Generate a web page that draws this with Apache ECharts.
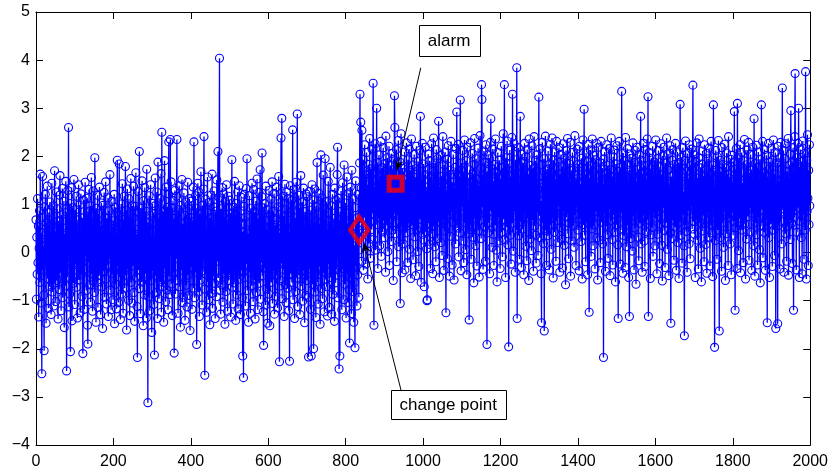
<!DOCTYPE html>
<html><head><meta charset="utf-8">
<script src="https://cdn.jsdelivr.net/npm/echarts@6/dist/echarts.min.js"></script>
<style>html,body{margin:0;padding:0;background:#fff}#c{width:831px;height:470px}</style>
</head><body><div id="c"></div>
<script>
const xTicks = [0,200,400,600,800,1000,1200,1400,1600,1800,2000];
const yTicks = [-4,-3,-2,-1,0,1,2,3,4,5];
// observed signal, one value per sample (sample index = position in array)
const values = [
0.68,-0.97,0.32,-0.45,1.12,-0.21,0.55,-1.34,0.09,0.87,-0.62,1.63,-0.18,0.41,-1.05,-2.52,0.73,1.58,-0.36,0.14,-0.88,-2.04,0.95,-0.27,1.21,0.36,-1.47,0.62,-0.09,1.38,-0.54,0.21,-1.16,0.83,0.47,-0.71,1.05,-0.33,0.18,-1.29,0.59,1.44,-0.82,0.06,-0.4,0.97,-1.11,0.28,1.7,-0.63,
0.44,-1.02,0.17,1.26,-0.58,0.91,-0.15,-1.38,0.66,0.03,-0.77,1.19,1.6,-0.42,0.25,-1.21,0.78,-0.06,1.33,-0.94,0.51,-0.3,1.07,-1.56,0.39,0.12,-0.69,1.48,-0.23,-2.46,0.84,-0.51,1.29,0.07,2.6,-1.13,0.35,-0.86,1.02,-2.06,0.58,-0.19,1.35,-1.42,0.22,0.93,-0.64,0.11,1.52,-0.37,
-1.08,0.46,0.89,-0.25,1.17,-0.72,0.31,-1.36,0.68,0.04,1.41,-0.57,-0.12,0.99,-1.25,0.53,1.22,-0.46,0.16,-0.91,0.72,-2.1,0.38,1.09,-0.34,-1.18,0.61,1.46,-0.08,0.27,-0.79,1.13,0.42,-1.51,-1.9,0.86,-0.2,1.31,0.09,-0.67,0.97,-1.03,0.34,1.56,-0.44,0.18,-1.22,0.75,1.28,-0.59,
0.13,-0.83,1.97,-0.31,0.64,-1.45,0.92,0.05,-0.62,1.19,-1.14,0.37,0.81,-0.48,1.36,-0.17,0.56,-1.29,0.24,1.03,-0.71,0.45,-1.58,0.98,0.2,-0.39,1.25,-0.93,0.62,0.08,1.47,-0.55,-1.07,0.71,0.33,-0.26,1.14,-1.33,0.48,0.87,-0.14,1.62,-0.78,0.29,-1.19,0.57,1.06,-0.43,0.15,-0.98,
0.66,-0.37,1.21,-1.48,0.39,0.94,-0.66,0.12,-1.17,0.83,1.92,-0.29,0.47,-1.04,0.76,1.84,-0.51,0.19,-1.39,0.58,1.01,-0.86,0.27,1.43,-0.21,-1.26,0.69,0.02,1.17,-0.74,0.36,1.79,-0.47,0.88,-1.61,0.14,1.32,-0.35,0.61,-0.99,1.12,0.26,-1.31,0.79,-0.09,1.54,-0.62,0.43,-1.05,0.97,
-0.28,0.73,1.38,-0.83,0.21,-1.43,0.96,0.07,1.66,-0.52,0.38,-1.12,-2.18,0.84,1.27,-0.36,0.49,2.1,-0.75,0.15,-1.27,0.92,0.31,-0.61,1.49,-0.19,0.67,-1.52,1.08,0.24,-0.88,1.35,0.11,-0.44,0.86,-1.36,1.73,-0.27,0.52,-3.12,0.63,-0.92,1.18,0.04,-1.21,0.77,1.41,-0.58,0.29,-1.66,
0.46,1.02,-0.39,0.81,-1.08,0.23,-2.13,0.97,1.55,-0.48,0.18,-0.83,1.26,0.59,-1.37,1.88,-0.14,0.72,-0.96,0.35,1.13,-0.61,0.09,1.64,-1.24,2.5,0.44,-0.71,0.86,-0.22,-1.45,0.67,1.91,-0.33,0.28,-1.02,1.36,0.13,-0.78,0.94,0.52,-1.19,1.22,2.3,-0.49,0.38,-0.87,2.35,0.06,1.47,
-0.65,0.93,-1.31,0.17,1.08,-0.42,0.71,-2.09,0.34,1.29,-0.86,0.55,-0.13,1.17,2.35,-0.58,0.24,-1.26,0.89,0.02,1.39,-0.71,0.46,-1.55,0.98,0.31,-0.37,1.52,-1.04,0.6,0.16,-0.93,1.24,-0.25,0.77,-1.41,0.42,1.05,-0.68,0.19,-1.13,0.85,1.46,-0.47,0.28,-0.89,1.12,0.51,-1.62,0.73,
-0.3,1.07,0.38,-1.18,0.64,-0.05,1.36,-0.74,2.3,0.21,-0.94,0.57,1.18,-0.41,0.92,-1.91,0.33,-0.16,1.44,-0.82,0.69,1.26,-1.33,0.15,0.81,-0.57,1.68,-0.23,0.47,-1.09,0.98,-0.38,0.26,1.32,2.41,-0.76,-2.55,0.62,1.11,-0.45,0.09,-1.24,0.83,1.57,-0.61,0.35,-0.98,1.04,0.17,-1.5,
0.72,-0.27,1.19,-0.85,0.44,1.63,-1.16,0.31,-0.49,0.95,1.28,-0.64,0.13,-1.37,0.86,0.4,-0.92,1.51,-0.18,0.6,2.1,-0.53,0.25,1.14,4.04,-0.79,0.47,-1.28,0.91,0.08,-0.67,1.35,0.52,-1.03,0.19,1.22,-0.44,0.73,-1.49,1.06,0.28,-0.81,1.41,-0.15,0.66,-1.22,0.37,1.17,-0.58,0.03,
1.09,-0.46,0.82,-1.34,0.21,0.55,1.93,-0.72,0.36,-1.07,0.94,0.14,-0.63,1.48,-0.29,0.77,-1.41,1.02,0.48,-0.88,0.31,1.26,-1.17,0.65,-0.08,1.39,-0.55,0.22,-1.29,0.87,1.15,-0.37,0.59,-0.94,-2.15,0.43,-2.6,0.96,1.21,-0.52,0.18,-1.11,0.74,1.33,-0.24,1.95,-0.79,0.4,0.07,-1.45,
0.63,1.18,-0.41,0.27,-1.26,0.92,0.05,-0.69,1.44,-0.18,0.49,-1.02,1.31,0.16,-0.57,0.84,-1.38,0.35,1.07,-0.83,0.22,1.53,-0.36,-1.19,0.71,0.11,1.25,-0.64,0.45,1.72,-0.97,0.38,-0.21,1.16,2.07,-0.48,0.93,-1.23,-1.93,0.54,1.02,-0.32,0.67,-1.09,1.38,0.26,-0.75,0.47,-1.47,0.89,
0.12,-0.86,1.29,0.43,-1.52,0.78,-0.15,1.11,-0.62,0.34,1.47,-1.06,0.2,0.86,-0.39,1.23,-1.28,0.57,0.03,-0.91,0.68,1.36,-0.47,0.29,-1.15,0.95,0.16,1.58,-0.7,-2.27,0.41,-0.58,1.04,2.38,-0.23,2.79,-0.96,0.52,1.17,-0.35,0.76,-1.33,0.18,1.42,-0.67,0.31,-1.04,0.89,1.26,-0.13,
-0.74,0.46,1.13,-1.21,0.27,-2.26,0.83,1.39,-0.44,0.09,1.08,-0.62,0.35,2.55,-0.98,0.57,-0.2,1.31,-1.37,0.72,0.14,-0.81,1.46,0.39,-0.53,2.88,-1.12,0.64,0.01,1.19,-0.45,0.93,-1.29,0.28,1.6,-0.7,0.47,-0.16,1.05,-1.01,0.62,1.34,-0.38,0.19,-1.46,0.85,0.32,-0.89,1.22,0.07,
-0.58,1.16,0.41,-0.93,-2.17,0.72,1.27,-0.34,0.56,-1.18,0.88,-2.15,0.23,1.41,-0.66,0.37,1.09,-2.0,0.15,-0.47,1.32,-0.82,0.51,-1.35,0.96,0.08,1.87,-0.61,0.44,-1.07,0.79,1.23,-0.29,0.6,-1.49,0.34,2.03,-0.75,0.18,1.14,-0.96,0.47,1.61,-0.42,0.27,-1.23,0.91,1.95,-0.56,0.12,
1.06,-0.71,0.38,-1.32,0.83,1.48,-0.24,0.65,-1.14,0.29,1.77,-0.52,0.14,0.97,-1.28,0.43,1.21,-0.87,0.56,-0.09,0.71,-1.43,1.34,0.22,-0.63,1.09,-0.35,0.48,1.62,2.19,-0.94,0.31,1.13,-2.42,0.67,-2.15,0.85,-0.41,1.28,0.04,-1.19,0.58,1.45,-0.33,0.17,-0.98,1.82,0.39,-0.66,1.03,
0.27,-1.36,0.82,1.57,-0.45,0.61,-1.04,0.18,1.24,-0.77,-1.88,0.43,1.36,-0.52,0.09,-1.27,1.71,0.35,-0.81,1.12,0.56,-1.45,0.14,-0.62,-1.98,0.93,1.49,-0.28,0.38,-1.11,0.72,-0.46,1.21,0.05,-0.93,0.47,1.86,3.29,0.62,2.71,1.34,-0.18,2.54,1.07,0.41,1.93,-0.37,1.58,0.86,2.24,
0.73,1.62,-0.24,1.15,2.08,0.36,1.41,-0.55,0.97,1.83,0.19,1.28,2.37,0.64,-0.12,1.74,1.03,0.48,2.15,0.81,1.49,3.52,0.27,-1.51,1.36,0.92,2.26,0.05,1.68,1.12,3.0,0.58,1.87,-0.33,1.24,0.71,2.03,1.45,0.14,1.59,0.87,2.31,-0.08,1.18,1.76,0.43,1.02,2.18,0.66,1.39,
0.31,1.85,1.12,-0.41,2.42,0.78,1.29,0.56,1.97,0.02,1.53,0.94,2.21,-0.27,1.37,0.69,1.81,1.08,0.23,2.06,1.16,0.47,1.72,-0.58,1.94,0.83,3.26,2.6,0.39,1.43,0.95,2.14,-0.19,1.61,0.77,1.28,2.33,0.12,1.49,0.66,1.88,-1.06,1.21,2.47,0.54,1.03,-0.42,1.75,1.34,0.18,
1.67,0.89,2.09,-0.36,1.14,1.52,0.41,2.28,0.73,1.26,-0.21,1.93,0.62,1.38,2.15,0.07,1.71,0.94,-0.54,1.47,2.36,0.58,1.09,1.82,-0.15,1.25,0.84,2.04,0.33,1.56,0.92,-0.48,1.63,2.21,0.47,1.17,0.02,1.89,1.31,-0.29,1.44,2.12,0.69,2.83,1.06,-0.62,1.53,0.81,2.27,0.38,
1.19,1.84,0.26,-0.71,1.62,0.95,2.19,0.44,1.36,0.08,-1.0,-0.98,1.73,2.05,0.61,1.28,0.17,1.91,1.04,-0.33,1.57,0.83,2.26,0.39,1.12,-0.44,1.69,2.38,0.55,1.21,0.12,1.86,1.03,-0.19,2.14,0.76,1.42,0.29,1.95,0.64,2.73,1.08,-0.52,1.34,0.87,2.02,0.21,1.58,1.17,-0.06,
1.49,2.41,0.68,1.13,-0.37,1.82,0.45,2.09,0.96,-1.25,1.27,0.58,1.94,-0.13,1.36,2.22,0.79,1.05,-0.49,1.71,0.34,1.62,2.31,0.87,1.18,-0.26,1.46,0.63,2.04,1.09,-0.57,1.33,0.92,1.77,0.18,2.16,1.24,2.92,0.51,1.39,0.76,2.25,-0.09,1.58,1.02,0.41,3.17,1.14,-0.38,1.86,
0.97,1.43,2.12,0.24,1.68,-0.21,1.09,2.34,0.62,1.27,0.06,1.91,1.35,-0.46,2.19,0.83,1.56,0.39,1.13,-1.4,1.72,0.58,2.28,1.01,-0.14,1.47,0.91,2.06,0.32,1.64,1.18,-0.63,1.83,2.37,0.71,1.26,0.14,1.95,1.04,-0.28,1.52,0.85,2.17,0.46,1.39,-0.51,1.11,2.43,0.67,1.76,
0.29,3.49,3.18,0.94,1.61,-0.35,1.28,2.11,0.53,1.87,1.05,-0.18,2.24,0.77,1.42,-1.91,1.69,0.41,2.03,1.16,0.62,1.95,-0.44,1.33,2.29,2.78,0.86,1.21,0.11,1.74,2.15,0.38,1.48,-0.27,1.02,1.83,0.57,2.36,1.24,0.05,1.67,-0.61,1.14,2.08,0.73,1.39,0.24,1.92,1.07,-0.33,
1.53,0.88,2.21,0.42,1.76,-0.09,1.35,2.47,0.69,1.12,3.49,0.27,1.64,-0.52,1.97,1.08,0.53,2.32,1.41,0.16,1.85,-1.96,1.29,0.74,2.13,0.36,1.58,-0.24,1.06,2.39,0.61,3.29,1.17,0.03,1.72,2.26,0.89,1.44,-0.41,1.93,1.21,0.47,3.84,-1.37,1.66,0.92,2.18,0.35,1.31,-0.14,
1.79,2.83,0.64,1.38,-0.31,2.05,1.12,0.49,1.86,0.97,-0.46,1.54,2.27,0.81,1.25,0.13,1.99,1.41,-0.17,2.14,0.72,1.63,1.08,-0.58,2.36,0.93,1.47,0.28,1.81,1.19,0.04,2.22,1.36,0.67,1.74,-0.39,1.15,2.41,0.55,1.28,1.91,0.36,-0.22,1.69,2.03,0.84,1.32,-0.06,1.57,3.23,
0.78,1.44,2.16,0.31,1.07,-0.44,-1.46,1.83,2.29,0.62,1.36,0.19,1.95,-1.63,1.21,0.87,2.42,0.46,1.58,-0.27,1.73,1.02,0.35,2.11,0.94,1.49,-0.36,1.84,0.58,2.25,1.13,0.07,1.67,2.38,0.71,1.26,-0.53,1.92,1.39,0.42,2.09,0.83,1.51,-0.18,1.17,2.31,0.66,1.44,0.21,1.88,
0.96,2.18,1.27,-0.41,1.63,0.52,2.04,1.14,0.28,1.79,-0.32,1.41,2.26,0.87,1.09,0.15,1.96,1.33,-0.67,2.12,0.74,1.58,1.03,2.37,0.39,1.22,-0.13,1.85,0.61,1.47,2.29,-0.49,1.16,0.92,1.71,0.24,2.08,1.36,0.56,1.9,0.11,1.62,2.43,0.78,1.25,-0.27,1.53,0.95,2.15,1.08,
0.47,1.84,1.19,-0.38,2.21,0.69,1.42,1.07,0.23,1.96,1.31,-0.55,1.77,2.34,0.58,1.14,2.98,0.36,1.62,0.81,-0.19,2.07,1.28,0.64,1.89,-0.46,1.17,2.25,0.93,-1.24,1.55,0.72,2.13,1.04,-0.08,1.81,0.49,2.36,1.26,0.14,1.68,2.02,0.57,1.37,-0.34,1.93,0.85,1.21,2.27,0.31,
1.46,-0.57,1.12,2.19,0.74,1.58,0.26,1.87,-0.21,1.34,2.31,0.63,1.09,1.76,0.18,1.42,-2.18,1.95,0.82,2.09,1.27,-0.39,1.64,0.55,2.24,1.03,0.37,1.81,-0.12,1.49,0.91,2.16,1.33,-0.48,1.72,0.66,2.38,1.15,0.27,1.58,-0.26,1.99,1.21,0.78,2.13,0.42,1.36,-0.61,1.84,1.07,
0.58,2.22,1.39,0.16,-1.37,1.68,0.93,2.31,1.12,-0.24,1.77,0.47,1.26,3.35,0.82,1.54,-0.43,2.07,1.18,0.35,1.91,1.04,-0.31,2.39,0.69,1.45,0.12,1.83,2.16,0.57,1.32,-0.52,1.71,-1.33,2.05,0.88,1.23,0.29,1.96,1.41,0.03,1.62,2.28,0.76,1.14,-0.36,1.87,0.51,2.12,1.29,
-0.66,1.48,0.84,2.19,1.07,0.32,1.73,-0.17,1.26,2.03,0.61,1.39,2.83,0.18,1.92,1.11,-0.41,1.64,0.77,2.27,1.36,0.24,1.81,-0.29,2.14,0.95,1.52,0.43,1.18,2.36,0.68,3.24,-1.33,1.57,0.89,2.08,1.25,-0.54,1.74,0.37,1.96,1.13,0.52,2.21,-0.08,1.46,0.83,1.88,1.2,0.14,
1.67,2.34,0.71,1.28,-0.44,1.95,0.38,1.51,2.12,0.86,1.19,-0.23,1.78,0.59,2.26,1.04,0.15,1.62,-0.59,2.01,0.93,1.37,2.19,0.46,1.14,-0.31,1.86,1.27,0.62,2.38,1.49,0.07,1.71,2.05,0.74,-0.48,1.33,0.98,2.22,0.41,-1.47,1.58,1.16,0.29,1.92,2.14,0.67,1.35,-0.16,1.83,
1.06,0.53,2.27,1.41,-0.37,1.74,0.88,2.09,0.21,1.32,1.87,-0.54,1.19,0.63,3.08,1.45,0.36,1.98,1.12,-0.22,1.64,2.18,0.79,1.26,0.14,-1.73,1.91,0.57,2.32,1.03,0.44,1.69,-0.41,2.06,1.23,0.87,1.54,0.18,2.24,1.37,-0.13,1.81,0.96,2.15,1.28,0.49,1.73,3.48,0.65,1.17,
2.03,0.38,1.46,-0.52,1.89,1.14,0.71,2.28,0.26,1.55,1.08,-0.34,1.97,2.36,0.62,1.31,0.09,1.76,1.22,-0.61,1.84,0.45,2.11,1.03,0.77,1.59,-0.19,2.24,0.93,1.38,0.17,1.72,2.06,-0.43,1.29,0.84,1.95,1.11,0.32,2.17,1.46,-0.28,1.63,0.58,2.31,1.07,0.41,1.82,-0.5,1.26,
3.07,0.93,1.71,-1.97,1.38,0.25,2.12,0.84,1.57,-0.14,1.99,1.21,0.47,2.33,0.76,-1.63,1.45,1.92,0.31,1.68,1.04,-0.39,2.18,1.27,0.62,1.83,0.11,1.49,2.25,0.86,1.32,-0.58,1.76,0.97,2.07,0.39,1.63,1.18,-0.27,2.41,0.72,1.55,1.09,0.18,1.94,1.36,-0.46,2.02,0.83,1.47,
1.21,0.36,1.88,0.65,2.93,1.14,-1.2,1.73,0.52,2.16,1.29,-0.33,3.1,0.89,1.58,0.04,1.97,1.35,0.71,2.24,-0.42,1.66,1.12,2.08,0.47,1.43,0.86,-0.21,1.91,1.24,2.35,0.59,1.37,-0.55,1.82,1.06,0.28,2.13,1.51,0.75,1.18,2.29,-0.16,1.64,0.92,1.39,2.04,0.43,1.71,-0.37,
1.53,0.81,2.19,1.27,0.14,2.78,1.08,-0.49,1.85,0.62,1.41,2.23,0.37,1.76,-0.26,1.15,2.09,0.73,1.32,0.06,1.94,-0.63,1.22,0.55,3.07,1.48,0.89,2.31,-0.11,1.67,1.03,0.42,2.14,1.36,-0.37,1.79,0.68,2.02,1.17,-1.46,1.58,0.94,2.27,0.31,1.45,-0.52,1.88,1.12,0.59,2.16,
0.83,1.37,-0.29,1.92,1.19,2.34,0.47,1.63,-0.06,1.25,2.08,-1.58,1.41,0.72,1.86,1.04,-1.48,2.21,0.56,1.49,1.13,-0.34,1.97,0.65,2.29,1.32,0.18,1.74,3.42,0.91,1.56,2.12,-0.41,1.28,0.83,1.95,0.39,2.26,1.07,-0.18,1.69,1.21,0.54,2.37,-0.47,1.43,0.96,1.82,0.27,2.05,
2.95,1.34,0.61,1.87,-0.23,1.16,2.18,-1.2,1.52,0.73,2.41,3.72,0.88,1.45,-0.36,1.97,0.42,1.61,2.27,0.94,3.0,1.23,-0.52,1.78,0.65,2.14,1.06,0.31,1.89,-0.44,1.37,2.32,0.79,1.58,-0.14,2.06,1.18,0.47,3.76,1.29,-0.55,1.92,0.86,2.45,1.13,-0.27,1.71,0.58,2.24,0.97
];
const changePoint = [835, 0.47];
const alarmPoint = [929, 1.43];
const labels = { alarm: 'alarm', change: 'change point' };

// annotation geometry in data units (box centres, arrow tails, arrow heads)
const alarmBox = { c: [1067, 4.41], w: 61, h: 31, tail: [994, 3.84], head: [932, 1.70] };
const changeBox = { c: [1065, -3.16], w: 115, h: 29, tail: [947, -2.99], head: [847, 0.21] };

const fmt = v => (v < 0 ? '\u2212' + (-v) : String(v));
const font = 'Liberation Sans, Arial, Helvetica, sans-serif';

const chart = echarts.init(document.getElementById('c'), null, { renderer: 'canvas' });
const common = {
  axisLine: { show: true, onZero: false, lineStyle: { color: '#000', width: 1 } },
  axisTick: { show: true, inside: true, length: 7, lineStyle: { color: '#000', width: 1 } },
  splitLine: { show: false },
};
const xBase = { type: 'value', min: xTicks[0], max: xTicks[xTicks.length - 1], interval: xTicks[1] - xTicks[0] };
const yBase = { type: 'value', min: yTicks[0], max: yTicks[yTicks.length - 1], interval: yTicks[1] - yTicks[0] };

chart.setOption({
  animation: false,
  backgroundColor: '#fff',
  grid: { left: 36, right: 20, top: 12, bottom: 23, containLabel: false },
  xAxis: [
    Object.assign({}, xBase, common, { position: 'bottom',
      axisLabel: { color: '#000', fontSize: 16, fontFamily: font, margin: 9, formatter: fmt } }),
    Object.assign({}, xBase, common, { position: 'top', axisLabel: { show: false } })
  ],
  yAxis: [
    Object.assign({}, yBase, common, { position: 'left',
      axisLabel: { color: '#000', fontSize: 16, fontFamily: font, margin: 6, formatter: fmt } }),
    Object.assign({}, yBase, common, { position: 'right', axisLabel: { show: false } })
  ],
  series: [
    {
      type: 'line',
      data: values.map((v, i) => [i, v]),
      symbol: 'circle', symbolSize: 8, showAllSymbol: true,
      lineStyle: { color: '#0000ff', width: 1.3 },
      itemStyle: { color: 'rgba(0,0,0,0)', borderColor: '#0000ff', borderWidth: 1.1 },
      emphasis: { disabled: true }, silent: true, z: 2
    },
    {
      type: 'scatter', data: [changePoint], symbol: 'diamond', symbolSize: [18, 26],
      itemStyle: { color: 'rgba(0,0,0,0)', borderColor: '#ff0000', borderWidth: 4.5 },
      silent: true, z: 3
    },
    {
      type: 'scatter', data: [alarmPoint], symbol: 'rect', symbolSize: 13,
      itemStyle: { color: 'rgba(0,0,0,0)', borderColor: '#ff0000', borderWidth: 5 },
      silent: true, z: 3
    }
  ]
});

function px(p) { return chart.convertToPixel({ gridIndex: 0 }, p); }
function arrow(tailD, headD) {
  const t = px(tailD), h = px(headD);
  const dx = h[0] - t[0], dy = h[1] - t[1], L = Math.hypot(dx, dy);
  const ux = dx / L, uy = dy / L, nx = -uy, ny = ux;
  const len = 11, w = 4.5, notch = 7;
  const b = [h[0] - ux * len, h[1] - uy * len];
  const n = [h[0] - ux * notch, h[1] - uy * notch];
  return [
    { type: 'line', z: 10, shape: { x1: t[0], y1: t[1], x2: n[0], y2: n[1] }, style: { stroke: '#000', lineWidth: 1 } },
    { type: 'polygon', z: 10, shape: { points: [h, [b[0] + nx * w, b[1] + ny * w], n, [b[0] - nx * w, b[1] - ny * w]] }, style: { fill: '#000' } }
  ];
}
function box(spec, text) {
  const c = px(spec.c);
  return [
    { type: 'rect', z: 10, shape: { x: Math.round(c[0] - spec.w / 2) + 0.5, y: Math.round(c[1] - spec.h / 2) + 0.5, width: spec.w, height: spec.h },
      style: { fill: '#fff', stroke: '#000', lineWidth: 1 } },
    { type: 'text', z: 11, x: c[0], y: c[1] + 1, style: { text: text, fill: '#000', font: '17px ' + font, align: 'center', verticalAlign: 'middle' } }
  ];
}
chart.setOption({
  graphic: [].concat(
    arrow(alarmBox.tail, alarmBox.head), box(alarmBox, labels.alarm),
    arrow(changeBox.tail, changeBox.head), box(changeBox, labels.change)
  )
});
</script>
</body></html>
